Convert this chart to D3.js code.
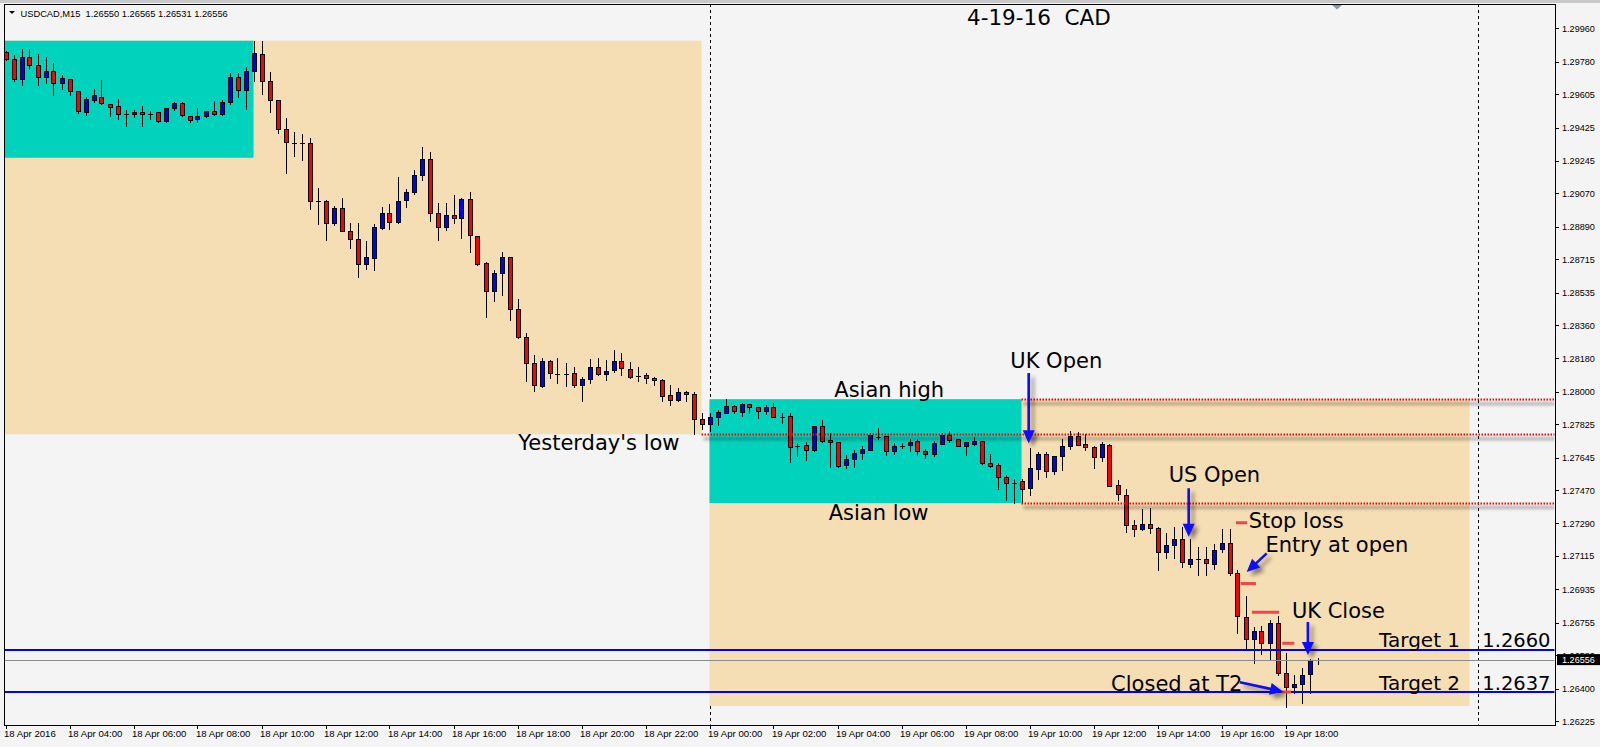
<!DOCTYPE html>
<html><head><meta charset="utf-8">
<script src="https://cdn.jsdelivr.net/npm/d3@7"></script>
<style>html,body{margin:0;padding:0;background:#f4f4f4;overflow:hidden}svg{display:block}</style>
</head><body><svg id="c" width="1600" height="747"></svg>
<script>
// ---------------- data ----------------
const symbolHeader = "USDCAD,M15  1.26550 1.26565 1.26531 1.26556";
const chartTitle = "4-19-16  CAD";

const open = [1.29831,1.29793,1.29688,1.29804,1.29761,1.29696,1.29728,1.29663,1.29685,1.29620,
1.29505,1.29570,1.29591,1.29553,1.29543,1.29498,1.29496,1.29507,1.29500,1.29507,
1.29459,1.29529,1.29556,1.29489,1.29469,1.29486,1.29513,1.29496,1.29561,1.29696,
1.29626,1.29728,1.29820,1.29674,1.29572,1.29415,1.29343,1.29340,1.29340,1.29029,
1.29027,1.28909,1.28989,1.28865,1.28822,1.28688,1.28725,1.28887,1.28966,1.28919,
1.29033,1.29074,1.29167,1.29254,1.28963,1.28887,1.28952,1.28936,1.29038,1.28842,
1.28693,1.28542,1.28639,1.28725,1.28445,1.28294,1.28154,1.28035,1.28165,1.28098,
1.28098,1.28100,1.28035,1.28067,1.28132,1.28094,1.28118,1.28165,1.28125,1.28085,
1.28089,1.28073,1.28062,1.27981,1.27952,1.27997,1.27987,1.27855,1.27825,1.27863,
1.27884,1.27922,1.27893,1.27933,1.27916,1.27893,1.27916,1.27863,1.27870,1.27708,
1.27712,1.27686,1.27816,1.27740,1.27729,1.27602,1.27636,1.27668,1.27688,1.27758,
1.27762,1.27681,1.27708,1.27712,1.27735,1.27681,1.27665,1.27722,1.27769,1.27744,
1.27706,1.27722,1.27733,1.27615,1.27604,1.27539,1.27510,1.27517,1.27480,1.27582,
1.27665,1.27573,1.27652,1.27708,1.27762,1.27719,1.27701,1.27647,1.27713,1.27496,
1.27442,1.27280,1.27259,1.27286,1.27264,1.27135,1.27171,1.27205,1.27070,1.27096,
1.27097,1.27075,1.27149,1.27183,1.27021,1.26787,1.26666,1.26709,1.26644,1.26752,
1.26485,1.26410,1.26425,1.26478,1.26550];
const high = [1.29839,1.29816,1.29848,1.29848,1.29820,1.29805,1.29773,1.29708,1.29685,1.29620,
1.29588,1.29633,1.29681,1.29553,1.29579,1.29520,1.29518,1.29539,1.29513,1.29507,
1.29530,1.29564,1.29564,1.29489,1.29530,1.29513,1.29568,1.29572,1.29717,1.29717,
1.29753,1.29890,1.29893,1.29723,1.29572,1.29476,1.29401,1.29389,1.29369,1.29097,
1.29033,1.29000,1.29043,1.28909,1.28910,1.28813,1.28903,1.28997,1.29013,1.29158,
1.29092,1.29196,1.29322,1.29293,1.29018,1.29018,1.29063,1.29045,1.29076,1.28842,
1.28698,1.28657,1.28754,1.28725,1.28499,1.28315,1.28198,1.28184,1.28170,1.28182,
1.28155,1.28132,1.28081,1.28175,1.28181,1.28170,1.28225,1.28209,1.28161,1.28132,
1.28100,1.28081,1.28067,1.28035,1.28021,1.28003,1.27997,1.27884,1.27887,1.27902,
1.27961,1.27929,1.27938,1.27933,1.27916,1.27929,1.27938,1.27884,1.27884,1.27726,
1.27729,1.27816,1.27848,1.27776,1.27729,1.27658,1.27686,1.27708,1.27776,1.27805,
1.27762,1.27722,1.27726,1.27747,1.27744,1.27692,1.27736,1.27776,1.27790,1.27744,
1.27729,1.27755,1.27733,1.27665,1.27618,1.27550,1.27528,1.27528,1.27695,1.27674,
1.27675,1.27652,1.27744,1.27790,1.27785,1.27771,1.27708,1.27731,1.27719,1.27524,
1.27474,1.27309,1.27367,1.27372,1.27273,1.27237,1.27273,1.27273,1.27204,1.27163,
1.27162,1.27181,1.27260,1.27260,1.27039,1.26899,1.26733,1.26737,1.26770,1.26791,
1.26590,1.26473,1.26509,1.26558,1.26565];
const low = [1.29789,1.29678,1.29656,1.29739,1.29656,1.29667,1.29602,1.29634,1.29602,1.29505,
1.29494,1.29564,1.29552,1.29489,1.29473,1.29435,1.29480,1.29435,1.29469,1.29455,
1.29455,1.29521,1.29486,1.29456,1.29456,1.29480,1.29491,1.29493,1.29553,1.29588,
1.29527,1.29678,1.29606,1.29510,1.29394,1.29181,1.29271,1.29252,1.28987,1.28906,
1.28820,1.28901,1.28865,1.28777,1.28617,1.28664,1.28655,1.28878,1.28876,1.28909,
1.28995,1.29068,1.29140,1.28921,1.28820,1.28871,1.28912,1.28831,1.28755,1.28685,
1.28405,1.28491,1.28524,1.28389,1.28289,1.28060,1.28006,1.28028,1.28074,1.28049,
1.28033,1.28028,1.27949,1.28049,1.28092,1.28064,1.28107,1.28091,1.28076,1.28060,
1.28049,1.28038,1.27949,1.27931,1.27949,1.27952,1.27771,1.27801,1.27790,1.27821,
1.27884,1.27884,1.27871,1.27884,1.27857,1.27879,1.27863,1.27833,1.27623,1.27654,
1.27632,1.27681,1.27729,1.27596,1.27596,1.27591,1.27596,1.27638,1.27686,1.27744,
1.27659,1.27665,1.27695,1.27681,1.27659,1.27645,1.27654,1.27719,1.27729,1.27706,
1.27658,1.27712,1.27609,1.27596,1.27474,1.27417,1.27400,1.27405,1.27444,1.27530,
1.27542,1.27558,1.27578,1.27692,1.27713,1.27686,1.27588,1.27629,1.27492,1.27417,
1.27246,1.27224,1.27255,1.27237,1.27039,1.27102,1.27102,1.27053,1.27054,1.27012,
1.27012,1.27045,1.27136,1.27012,1.26701,1.26617,1.26536,1.26585,1.26558,1.26473,
1.26302,1.26378,1.26320,1.26374,1.26531];
const close = [1.29793,1.29685,1.29804,1.29761,1.29696,1.29728,1.29663,1.29690,1.29620,1.29513,
1.29577,1.29599,1.29556,1.29539,1.29502,1.29498,1.29507,1.29496,1.29500,1.29459,
1.29529,1.29556,1.29489,1.29469,1.29486,1.29513,1.29496,1.29561,1.29696,1.29626,
1.29728,1.29825,1.29672,1.29570,1.29415,1.29343,1.29343,1.29340,1.29025,1.29029,
1.28909,1.28989,1.28865,1.28822,1.28688,1.28725,1.28890,1.28966,1.28919,1.29030,
1.29076,1.29167,1.29255,1.28963,1.28887,1.28952,1.28936,1.29038,1.28842,1.28689,
1.28542,1.28639,1.28725,1.28445,1.28294,1.28154,1.28035,1.28168,1.28100,1.28098,
1.28098,1.28033,1.28067,1.28132,1.28096,1.28111,1.28165,1.28127,1.28081,1.28085,
1.28071,1.28062,1.27977,1.27952,1.27997,1.27987,1.27852,1.27826,1.27863,1.27890,
1.27922,1.27893,1.27934,1.27916,1.27893,1.27916,1.27863,1.27863,1.27704,1.27708,
1.27686,1.27816,1.27735,1.27728,1.27602,1.27636,1.27668,1.27692,1.27769,1.27758,
1.27681,1.27708,1.27708,1.27729,1.27679,1.27665,1.27724,1.27769,1.27740,1.27706,
1.27729,1.27736,1.27615,1.27598,1.27537,1.27507,1.27510,1.27474,1.27588,1.27665,
1.27573,1.27652,1.27708,1.27762,1.27716,1.27701,1.27647,1.27719,1.27492,1.27445,
1.27280,1.27259,1.27286,1.27264,1.27135,1.27174,1.27205,1.27081,1.27097,1.27096,
1.27075,1.27149,1.27183,1.27020,1.26787,1.26666,1.26709,1.26644,1.26752,1.26485,
1.26410,1.26425,1.26471,1.26554,1.26556];

const timeTickBars = [0,8,16,24,32,40,48,56,64,72,80,88,96,104,112,120,128,136,144,152,160];
const timeTickLabels = ["18 Apr 2016","18 Apr 04:00","18 Apr 06:00","18 Apr 08:00","18 Apr 10:00","18 Apr 12:00",
"18 Apr 14:00","18 Apr 16:00","18 Apr 18:00","18 Apr 20:00","18 Apr 22:00","19 Apr 00:00","19 Apr 02:00",
"19 Apr 04:00","19 Apr 06:00","19 Apr 08:00","19 Apr 10:00","19 Apr 12:00","19 Apr 14:00","19 Apr 16:00","19 Apr 18:00"];
const priceTickLabels = ["1.29960","1.29780","1.29605","1.29425","1.29245","1.29070","1.28890","1.28715","1.28535",
"1.28360","1.28180","1.28000","1.27825","1.27645","1.27470","1.27290","1.27115","1.26935","1.26755","1.26580",
"1.26400","1.26225"];
const bidPrice = 1.26556;

// session boxes (bar index, price)
const boxKinds = ["day","asia","day","asia"];
const boxStartBars = [-8,-8,88,88];
const boxEndBars = [87,31,183,127];
const boxTopPrices = [1.29893,1.29893,1.27960,1.27960];
const boxBottomPrices = [1.27771,1.29262,1.26306,1.27400];

const separatorBars = [88,184];

const dottedLevels = [1.27960,1.27771,1.27400];
const dottedStartBars = [127,87,127];
const targetLevels = [1.26608,1.26380];

const markStartBars = [153.8,154.4,155.8,159.6,159.5];
const markEndBars = [155.2,156.3,159.2,161.1,160.7];
const markPrices = [1.27294,1.26967,1.26811,1.26644,1.26381];

const arrowFromBars = [127.9,147.9,157.65,162.8,154.3];
const arrowFromPrices = [1.28101,1.27480,1.27129,1.26759,1.26434];
const arrowToBars = [127.9,147.9,155.15,162.8,159.7];
const arrowToPrices = [1.27722,1.27219,1.27028,1.26581,1.26383];

const noteTexts = ["Yesterday's low","Asian high","Asian low","UK Open","US Open","Stop loss","Entry at open",
"UK Close","Closed at T2"];
const noteBars = [64.1,103.6,102.9,125.6,145.4,155.4,157.5,160.8,138.2];
const notePrices = [1.27687,1.27970,1.27311,1.28126,1.27512,1.27266,1.27135,1.26781,1.26385];
const targetNames = ["Target 1","Target 2"];
const targetValues = ["1.2660","1.2637"];
const targetLabelBars = [171.7,171.7];
const targetValueBars = [184.6,184.6];
const targetLabelPrices = [1.26625,1.26394];

// ---------------- drawing ----------------
const W=1600,H=747,L=4,T=4,R=1555,B=725;
const svg = d3.select("#c");
const x = d3.scaleLinear().domain([0,164]).range([5.5,1317.5]);
const y = d3.scaleLinear().domain([1.29960,1.26225]).range([28.3,721]);
const px = v => Math.round(v)+0.5;
const axisFont = "'Liberation Sans', Arial, sans-serif";
const noteFont = "'DejaVu Sans', Verdana, sans-serif";

const defs = svg.append("defs");
defs.append("clipPath").attr("id","plot").append("rect")
  .attr("x",L+0.5).attr("y",T+0.5).attr("width",R-L-1).attr("height",B-T-1);
const f = defs.append("filter").attr("id","shadow").attr("filterUnits","userSpaceOnUse")
  .attr("x",0).attr("y",0).attr("width",W).attr("height",H);
f.append("feGaussianBlur").attr("in","SourceAlpha").attr("stdDeviation",2).attr("result","b");
f.append("feOffset").attr("in","b").attr("dx",4).attr("dy",4).attr("result","o");
f.append("feComponentTransfer").attr("in","o").attr("result","s")
  .append("feFuncA").attr("type","linear").attr("slope",0.45);
const fm = f.append("feMerge"); fm.append("feMergeNode").attr("in","s"); fm.append("feMergeNode").attr("in","SourceGraphic");
const fb = defs.append("filter").attr("id","blur").attr("filterUnits","userSpaceOnUse")
  .attr("x",0).attr("y",0).attr("width",W).attr("height",H);
fb.append("feGaussianBlur").attr("stdDeviation",1.6);

svg.append("rect").attr("width",W).attr("height",H).attr("fill","#f4f4f4");

const plot = svg.append("g").attr("clip-path","url(#plot)");

// period separators (behind objects)
plot.selectAll("line.sep").data(separatorBars).join("line").attr("class","sep")
  .attr("x1",d=>px(x(d))).attr("x2",d=>px(x(d))).attr("y1",T).attr("y2",B)
  .attr("stroke","#000").attr("stroke-dasharray","3,3");

// boxes
const boxColor = {day:"#f5deb3", asia:"#00d2bc"};
plot.selectAll("rect.box").data(d3.range(boxKinds.length)).join("rect").attr("class","box")
  .attr("x",i=>x(boxStartBars[i])).attr("width",i=>x(boxEndBars[i])-x(boxStartBars[i]))
  .attr("y",i=>y(boxTopPrices[i])).attr("height",i=>y(boxBottomPrices[i])-y(boxTopPrices[i]))
  .attr("fill",i=>boxColor[boxKinds[i]]);

// candles
const idx = d3.range(open.length);
plot.selectAll("line.wick").data(idx).join("line").attr("class","wick")
  .attr("x1",i=>px(x(i))).attr("x2",i=>px(x(i)))
  .attr("y1",i=>Math.round(y(high[i]))).attr("y2",i=>Math.round(y(low[i]))+1)
  .attr("stroke","#000");
const bodies = idx.filter(i=>Math.abs(y(open[i])-y(close[i]))>=1.5);
const dojis = idx.filter(i=>Math.abs(y(open[i])-y(close[i]))<1.5);
plot.selectAll("rect.body").data(bodies).join("rect").attr("class","body")
  .attr("x",i=>px(x(i))-2).attr("width",4)
  .attr("y",i=>px(Math.min(y(open[i]),y(close[i]))))
  .attr("height",i=>Math.max(1,Math.round(Math.abs(y(open[i])-y(close[i])))))
  .attr("fill",i=>close[i]>open[i]?"#0000ff":"#ff0000").attr("stroke","#000");
plot.selectAll("line.doji").data(dojis).join("line").attr("class","doji")
  .attr("x1",i=>px(x(i))-2.5).attr("x2",i=>px(x(i))+2.5)
  .attr("y1",i=>px(y(close[i]))).attr("y2",i=>px(y(close[i])))
  .attr("stroke","#000");

// dotted red levels with soft shadow
plot.selectAll("line.dsh").data(d3.range(dottedLevels.length)).join("line").attr("class","dsh")
  .attr("x1",i=>x(dottedStartBars[i])+2).attr("x2",R)
  .attr("y1",i=>y(dottedLevels[i])+4.5).attr("y2",i=>y(dottedLevels[i])+4.5)
  .attr("stroke","#000").attr("stroke-opacity",0.28).attr("stroke-width",3).attr("filter","url(#blur)");
plot.selectAll("line.dot").data(d3.range(dottedLevels.length)).join("line").attr("class","dot")
  .attr("x1",i=>x(dottedStartBars[i])).attr("x2",R)
  .attr("y1",i=>px(y(dottedLevels[i]))).attr("y2",i=>px(y(dottedLevels[i])))
  .attr("stroke","#ff0000").attr("stroke-width",2).attr("stroke-dasharray","1.5,1.5");

// bid line & target lines
plot.append("line").attr("x1",L).attr("x2",R).attr("y1",px(y(bidPrice))).attr("y2",px(y(bidPrice)))
  .attr("stroke","#8c8c8c");
plot.selectAll("line.tgt").data(targetLevels).join("line").attr("class","tgt")
  .attr("x1",L).attr("x2",R).attr("y1",d=>Math.round(y(d))).attr("y2",d=>Math.round(y(d)))
  .attr("stroke","#0000ff").attr("stroke-width",2);

// red trade marks
plot.selectAll("line.mark").data(d3.range(markPrices.length)).join("line").attr("class","mark")
  .attr("x1",i=>x(markStartBars[i])).attr("x2",i=>x(markEndBars[i]))
  .attr("y1",i=>y(markPrices[i])).attr("y2",i=>y(markPrices[i]))
  .attr("stroke","#f04848").attr("stroke-width",3);

// arrows
const ag = plot.append("g").attr("filter","url(#shadow)");
d3.range(arrowFromBars.length).forEach(i=>{
  const x1=x(arrowFromBars[i]), y1=y(arrowFromPrices[i]), x2=x(arrowToBars[i]), y2=y(arrowToPrices[i]);
  const dx=x2-x1, dy=y2-y1, len=Math.hypot(dx,dy), ux=dx/len, uy=dy/len;
  const hl=13, hw=6;
  const bx=x2-ux*hl, by=y2-uy*hl;
  ag.append("line").attr("x1",x1).attr("y1",y1).attr("x2",bx+ux).attr("y2",by+uy)
    .attr("stroke","#0a0aff").attr("stroke-width",2.6);
  ag.append("path").attr("d",`M${x2},${y2}L${bx-uy*hw},${by+ux*hw}L${bx+uy*hw},${by-ux*hw}Z`)
    .attr("fill","#0a0aff");
});

// annotation texts
svg.selectAll("text.note").data(d3.range(noteTexts.length)).join("text").attr("class","note")
  .attr("x",i=>x(noteBars[i])).attr("y",i=>y(notePrices[i]))
  .attr("font-family",noteFont).attr("font-size",21).attr("fill","#000")
  .text(i=>noteTexts[i]);
svg.selectAll("text.tname").data(d3.range(targetNames.length)).join("text").attr("class","tname")
  .attr("x",i=>x(targetLabelBars[i])).attr("y",i=>y(targetLabelPrices[i]))
  .attr("font-family",noteFont).attr("font-size",20).attr("fill","#000").text(i=>targetNames[i]);
svg.selectAll("text.tval").data(d3.range(targetValues.length)).join("text").attr("class","tval")
  .attr("x",i=>x(targetValueBars[i])).attr("y",i=>y(targetLabelPrices[i]))
  .attr("font-family",noteFont).attr("font-size",19.5).attr("fill","#000").text(i=>targetValues[i]);

// title
svg.append("text").attr("x",967).attr("y",24.5).attr("font-family",noteFont)
  .attr("font-size",21.5).attr("fill","#000").style("white-space","pre").text(chartTitle);

// frame
svg.append("rect").attr("x",0).attr("y",0).attr("width",W).attr("height",3).attr("fill","#c8c8c8");
svg.append("rect").attr("x",L+0.5).attr("y",T+0.5).attr("width",R-L).attr("height",B-T)
  .attr("fill","none").attr("stroke","#000");

// header
svg.append("path").attr("d","M9,11L15,11L12,14Z").attr("fill","#000");
svg.append("text").attr("x",20.5).attr("y",16.5).attr("font-family",axisFont)
  .attr("font-size",9.3).style("white-space","pre").attr("fill","#000").text(symbolHeader);
// chart shift marker
svg.append("path").attr("d","M1332,5L1342,5L1337,9.5Z").attr("fill","#8898a8");

// price axis
const pa = svg.append("g");
pa.selectAll("line").data(priceTickLabels).join("line")
  .attr("x1",R).attr("x2",R+4).attr("y1",d=>px(y(+d))).attr("y2",d=>px(y(+d))).attr("stroke","#000");
pa.selectAll("text").data(priceTickLabels).join("text")
  .attr("x",R+7).attr("y",d=>y(+d)+3.5).attr("font-family",axisFont)
  .attr("font-size",9.1).attr("fill","#000").text(d=>d);
pa.append("rect").attr("x",R+2).attr("y",y(bidPrice)-5.5).attr("width",W-R-2).attr("height",11).attr("fill","#000");
pa.append("text").attr("x",R+7).attr("y",y(bidPrice)+3.5).attr("font-family",axisFont)
  .attr("font-size",9.1).attr("fill","#fff").text(bidPrice.toFixed(5));

// time axis
const ta = svg.append("g");
ta.selectAll("line").data(timeTickBars).join("line")
  .attr("x1",d=>px(x(d))).attr("x2",d=>px(x(d))).attr("y1",B).attr("y2",B+4).attr("stroke","#000");
ta.selectAll("text").data(timeTickBars).join("text")
  .attr("x",d=>x(d)-1.5).attr("y",737).attr("font-family",axisFont)
  .attr("font-size",9.6).attr("fill","#000").text((d,i)=>timeTickLabels[i]);
</script>
</body></html>
